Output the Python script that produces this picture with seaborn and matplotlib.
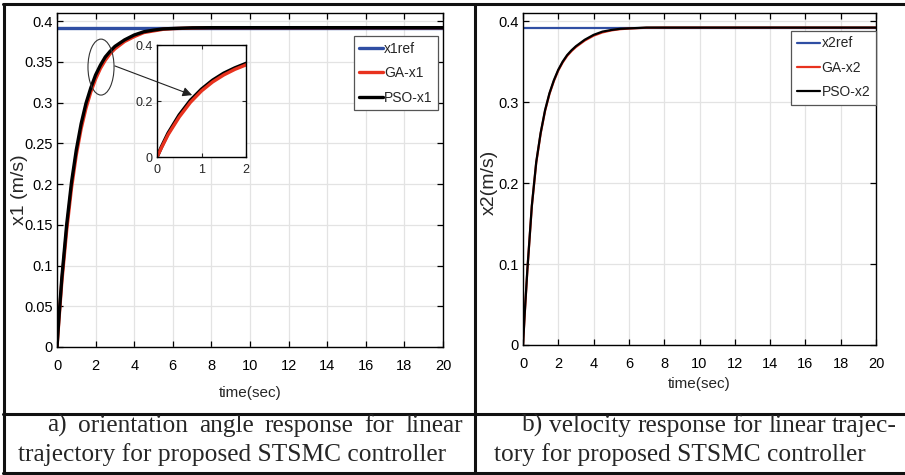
import numpy as np
import pandas as pd
import matplotlib
matplotlib.use("Agg")
import matplotlib.pyplot as plt
from matplotlib.patches import Ellipse
from matplotlib.lines import Line2D
from matplotlib.ticker import FuncFormatter
import seaborn as sns

# values
t = [0, 0.1, 0.25, 0.5, 0.75, 1.0, 1.25, 1.5, 1.75, 2.0, 2.25, 2.5, 2.75, 3.0,
     3.5, 4.0, 4.5, 5.0, 5.5, 6.0, 7.0, 8.0, 10.0, 15.0, 20.0]
pso_x1 = [0, 0.036, 0.085, 0.150, 0.202, 0.242, 0.274, 0.299, 0.318, 0.334, 0.346,
          0.356, 0.363, 0.369, 0.377, 0.383, 0.387, 0.389, 0.3905, 0.391, 0.3918,
          0.392, 0.392, 0.392, 0.392]
ga_x1 = [0, 0.033, 0.080, 0.143, 0.195, 0.236, 0.268, 0.293, 0.313, 0.329, 0.342,
         0.352, 0.360, 0.366, 0.375, 0.381, 0.386, 0.388, 0.390, 0.3908, 0.3916,
         0.392, 0.392, 0.392, 0.392]
pso_x2 = [0, 0.040, 0.094, 0.172, 0.226, 0.262, 0.290, 0.311, 0.327, 0.340, 0.350,
          0.358, 0.364, 0.369, 0.377, 0.383, 0.387, 0.389, 0.3905, 0.391, 0.392,
          0.392, 0.392, 0.392, 0.392]
ga_x2 = [0, 0.039, 0.093, 0.171, 0.225, 0.261, 0.289, 0.310, 0.326, 0.339, 0.349,
         0.357, 0.363, 0.368, 0.376, 0.382, 0.386, 0.3885, 0.390, 0.3908, 0.3918,
         0.392, 0.392, 0.392, 0.392]
t_ref = [0, 20]
x1_ref = [0.392, 0.392]
x2_ref = [0.392, 0.392]

x_ticks = [0, 2, 4, 6, 8, 10, 12, 14, 16, 18, 20]
y1_ticks = [0, 0.05, 0.1, 0.15, 0.2, 0.25, 0.3, 0.35, 0.4]
y2_ticks = [0, 0.1, 0.2, 0.3, 0.4]

BLUE = "#2f4ea3"
RED = "#e8321e"
sans = ["Liberation Sans", "DejaVu Sans"]

sns.set_theme(style="ticks")
plt.rcParams["font.family"] = sans

W, H = 905, 475
fig = plt.figure(figsize=(W / 100, H / 100), dpi=100)
fig.patch.set_facecolor("white")

def px(x0, y0, x1, y1):
    # pixel box -> figure fraction rect
    return [x0 / W, 1 - y1 / H, (x1 - x0) / W, (y1 - y0) / H]

fmt = FuncFormatter(lambda v, p: "%g" % v)

def style_axes(ax, yticks, fs=10.5):
    ax.set_xlim(0, 20)
    ax.set_ylim(0, 0.41)
    ax.set_xticks(x_ticks)
    ax.set_yticks(yticks)
    ax.xaxis.set_major_formatter(fmt)
    ax.yaxis.set_major_formatter(fmt)
    ax.grid(True, color="#e3e3e3", lw=0.9)
    ax.set_axisbelow(True)
    ax.tick_params(direction="in", top=True, right=True, length=4.5, width=0.9,
                   labelsize=fs, colors="black")
    ax.tick_params(axis="x", pad=9)
    ax.tick_params(axis="y", pad=3)
    for s in ax.spines.values():
        s.set_color("black")
        s.set_linewidth(1.0)

def legend(ax, anchor):
    lg = ax.legend(loc="upper right", bbox_to_anchor=anchor, fontsize=10,
                   frameon=True, fancybox=False, framealpha=1, edgecolor="#555555",
                   handlelength=1.7, handletextpad=0.1, borderpad=0.4,
                   labelspacing=0.75, borderaxespad=0)
    lg.get_frame().set_linewidth(0.9)
    return lg

# ---- left panel
ax1 = fig.add_axes(px(57, 13, 443, 347))
sns.lineplot(x=t_ref, y=x1_ref, ax=ax1, color=BLUE, lw=2.4, label="x1ref")
sns.lineplot(x=t, y=ga_x1, ax=ax1, color=RED, lw=2.4, label="GA-x1")
sns.lineplot(x=t, y=pso_x1, ax=ax1, color="black", lw=2.4, label="PSO-x1")
style_axes(ax1, y1_ticks)
ax1.set_xlabel("time(sec)", fontsize=11, labelpad=9)
ax1.set_ylabel("x1 (m/s)", fontsize=14)
ax1.yaxis.set_label_coords(-0.075, 0.47)
legend(ax1, (0.988, 0.93))

ax1.add_patch(Ellipse((2.28, 0.3436), 1.35, 0.0687, fill=False, ec="#333333",
                      lw=0.8, zorder=5))

# inset zoom
ins = fig.add_axes(px(157, 45, 246, 157))
sns.lineplot(x=t, y=pso_x1, ax=ins, color="black", lw=2.6, legend=False)
sns.lineplot(x=t, y=ga_x1, ax=ins, color=RED, lw=2.4, legend=False)
ins.set_xlim(0, 2)
ins.set_ylim(0, 0.4)
ins.set_xticks([0, 1, 2])
ins.set_yticks([0, 0.2, 0.4])
ins.xaxis.set_major_formatter(fmt)
ins.yaxis.set_major_formatter(fmt)
ins.set_xlabel("")
ins.set_ylabel("")
ins.grid(True, color="#e3e3e3", lw=0.8)
ins.tick_params(direction="in", top=True, right=True, length=3, width=0.8,
                labelsize=9, pad=3)
ins.tick_params(axis="x", pad=5)
for s in ins.spines.values():
    s.set_color("black")
    s.set_linewidth(1.0)
ins.annotate("", xy=(0.79, 0.221), xycoords="data",
             xytext=(3.0, 0.345), textcoords=ax1.transData,
             arrowprops=dict(arrowstyle="-|>", color="#222222", lw=0.8,
                             mutation_scale=14, shrinkA=0, shrinkB=0),
             annotation_clip=False, zorder=10)

# ---- right panel
ax2 = fig.add_axes(px(523, 13, 876, 345))
sns.lineplot(x=t_ref, y=x2_ref, ax=ax2, color=BLUE, lw=1.6, label="x2ref")
sns.lineplot(x=t, y=ga_x2, ax=ax2, color=RED, lw=1.6, label="GA-x2")
sns.lineplot(x=t, y=pso_x2, ax=ax2, color="black", lw=1.6, label="PSO-x2")
style_axes(ax2, y2_ticks)
ax2.set_xlabel("time(sec)", fontsize=11, labelpad=4)
ax2.set_ylabel("x2(m/s)", fontsize=14)
ax2.yaxis.set_label_coords(-0.072, 0.49)
legend(ax2, (1.0, 0.946))

# ---- table frame
def hline(y, x0, x1):
    fig.add_artist(Line2D([x0 / W, x1 / W], [1 - y / H, 1 - y / H], color="#111111",
                          lw=2.2, transform=fig.transFigure))

def vline(x, y0, y1):
    fig.add_artist(Line2D([x / W, x / W], [1 - y0 / H, 1 - y1 / H], color="#111111",
                          lw=2.2, transform=fig.transFigure))

hline(4, 3, 905)
hline(414, 3, 905)
hline(473, 3, 905)
vline(3.5, 4, 473)
vline(475, 4, 473)

# ---- captions
serif = ["Liberation Serif", "DejaVu Serif"]
cap_fs = 18.3
renderer = fig.canvas.get_renderer()

def caption(line, x0, x1, y, justify):
    words = line.split(" ")
    if not justify:
        fig.text(x0 / W, 1 - y / H, line, fontsize=cap_fs, family=serif,
                 va="baseline", ha="left")
        return
    arts = [fig.text(0, 1 - y / H, w, fontsize=cap_fs, family=serif,
                     va="baseline", ha="left") for w in words]
    widths = [a.get_window_extent(renderer).width for a in arts]
    gap = (x1 - x0 - sum(widths)) / (len(words) - 1)
    x = x0
    for a, w in zip(arts, widths):
        a.set_x(x / W)
        x += w + gap

caption("a) orientation angle response for linear", 47, 463, 432, True)
caption("trajectory for proposed STSMC controller", 18, 445, 461, False)
caption("b) velocity response for linear trajec-", 522, 897, 432, True)
caption("tory for proposed STSMC controller", 494, 863, 461, False)

fig.savefig("out.png", dpi=100, facecolor="white")
